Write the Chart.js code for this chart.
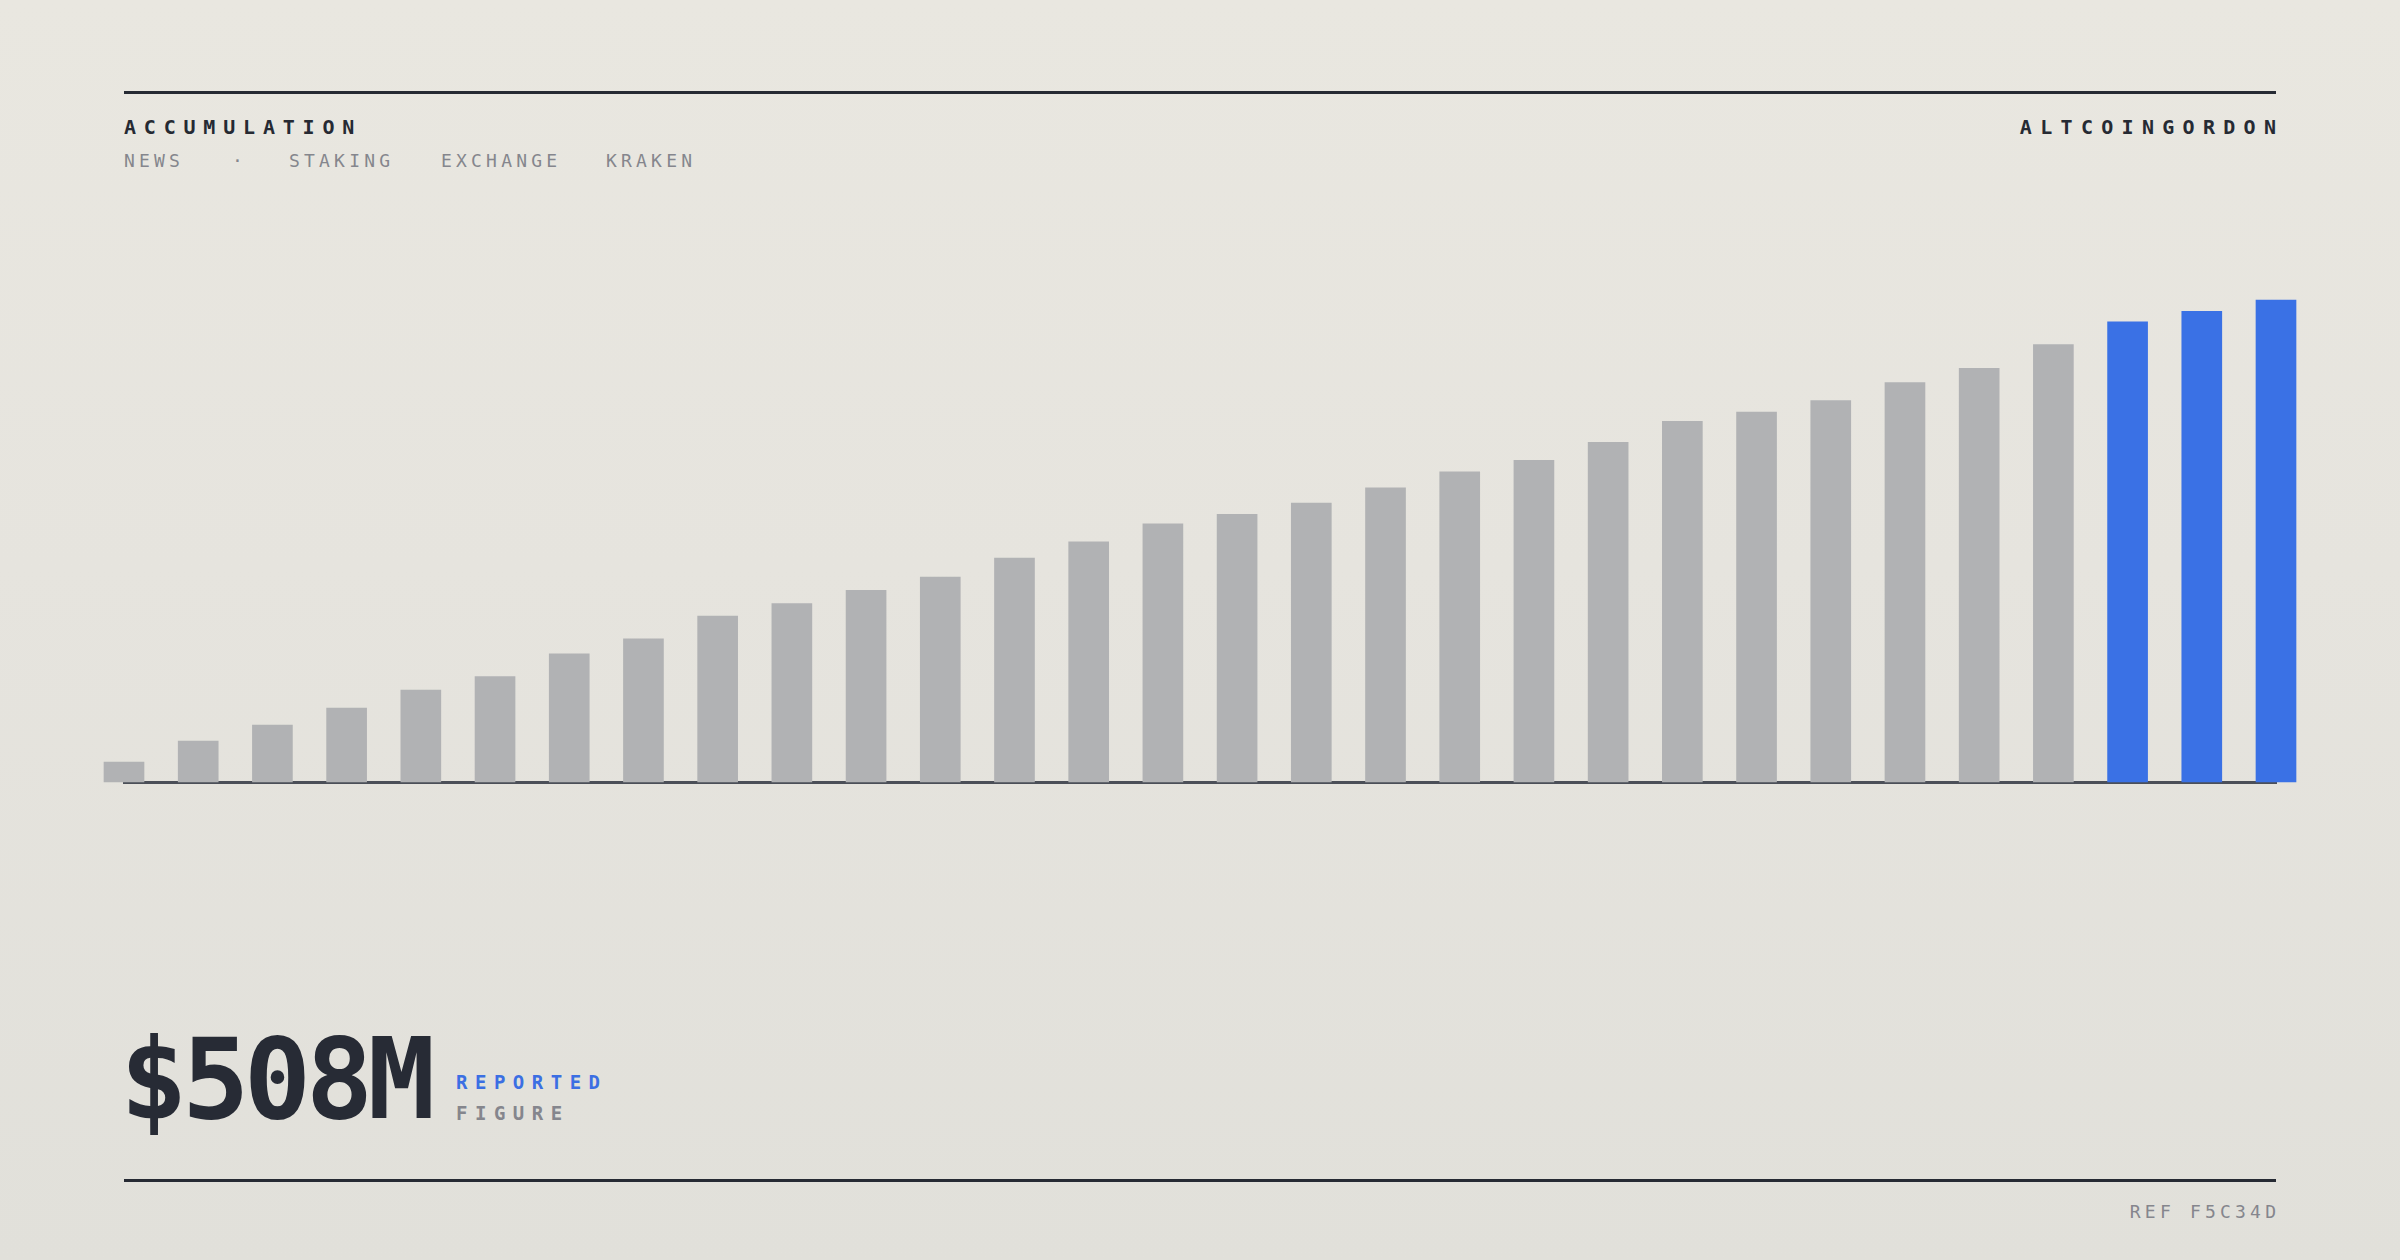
<!DOCTYPE html>
<html>
<head>
<meta charset="utf-8">
<script src="https://cdn.jsdelivr.net/npm/chart.js@4.4.1/dist/chart.umd.min.js"></script>
<style>
  html, body { margin:0; padding:0; }
  body {
    width:2400px; height:1260px; overflow:hidden; position:relative;
    background: linear-gradient(180deg, #e9e7e0 0%, #e6e4de 45%, #e1e0da 100%);
    font-family: "DejaVu Sans Mono", "Liberation Mono", monospace;
  }
  .rule { position:absolute; left:124px; width:2152px; height:3px; background:#262a33; }
  .t { position:absolute; white-space:nowrap; }
  #chart { position:absolute; left:0; top:0; }
</style>
</head>
<body>
<div class="rule" style="top:91px"></div>
<div class="rule" style="top:1179px"></div>

<div class="t" id="title" style="left:124px; top:112px; height:30px; line-height:30px; font-size:20px; font-weight:bold; letter-spacing:7.8px; color:#262a33;"></div>
<div class="t" id="brand" style="right:124px; margin-right:-8.3px; top:112px; height:30px; line-height:30px; font-size:20px; font-weight:bold; letter-spacing:8.3px; color:#262a33;"></div>
<div id="tags"></div>

<div class="t" id="big" style="left:120px; top:1019px; height:120px; line-height:120px; font-size:112px; font-weight:bold; letter-spacing:-5.5px; color:#272b35;"></div>
<div class="t" id="lab1" style="left:456px; top:1068px; height:28px; line-height:28px; font-size:19px; font-weight:bold; letter-spacing:7.5px; color:#3b6fe3;"></div>
<div class="t" id="lab2" style="left:456px; top:1099px; height:28px; line-height:28px; font-size:19px; font-weight:bold; letter-spacing:7.5px; color:#85868d;"></div>
<div class="t" id="ref" style="right:124px; margin-right:-4.2px; top:1198px; height:28px; line-height:28px; font-size:18px; letter-spacing:4.2px; color:#85868d;"></div>

<canvas id="chart" width="2400" height="1260"></canvas>

<script>
// ---- data ----
const categories = ["W01","W02","W03","W04","W05","W06","W07","W08","W09","W10",
                    "W11","W12","W13","W14","W15","W16","W17","W18","W19","W20",
                    "W21","W22","W23","W24","W25","W26","W27","W28","W29","W30"];
const values = [21, 43, 60, 78, 97, 111, 135, 151, 175, 188,
                202, 216, 236, 253, 272, 282, 294, 310, 327, 339,
                358, 380, 390, 402, 421, 436, 461, 485, 496, 508];
const highlightedCount = 3;
const titleText = "ACCUMULATION";
const brandText = "ALTCOINGORDON";
const tagTexts = ["NEWS", "·", "STAKING", "EXCHANGE", "KRAKEN"];
const headlineValue = "$508M";
const headlineLabels = ["REPORTED", "FIGURE"];
const refText = "REF F5C34D";

// ---- text ----
document.getElementById('title').textContent = titleText;
document.getElementById('brand').textContent = brandText;
document.getElementById('big').textContent = headlineValue;
document.getElementById('lab1').textContent = headlineLabels[0];
document.getElementById('lab2').textContent = headlineLabels[1];
document.getElementById('ref').textContent = refText;
const tagLefts = [124, 232, 289, 441, 606];
const tagsEl = document.getElementById('tags');
tagTexts.forEach((t, i) => {
  const d = document.createElement('div');
  d.className = 't';
  d.textContent = t;
  d.style.cssText = `left:${tagLefts[i]}px; top:147px; height:28px; line-height:28px; font-size:18px; letter-spacing:4.2px; color:#85868d;`;
  tagsEl.appendChild(d);
});

// ---- chart ----
const gray = '#b1b2b4';
const blue = '#3a71e5';
const barColors = values.map((v, i) => i >= values.length - highlightedCount ? blue : gray);

new Chart(document.getElementById('chart'), {
  type: 'bar',
  data: {
    labels: categories,
    datasets: [{
      data: values,
      backgroundColor: barColors,
      borderWidth: 0,
      barThickness: 40,
      clip: false
    }]
  },
  options: {
    responsive: false,
    animation: false,
    devicePixelRatio: 1,
    layout: { padding: { left: 124, right: 124, top: 300, bottom: 478 } },
    plugins: { legend: { display: false }, tooltip: { enabled: false }, title: { display: false } },
    scales: {
      x: {
        offset: false,
        z: 1,
        grid: { display: false, drawTicks: false },
        ticks: { display: false },
        border: { display: true, color: '#4b4f58', width: 3 }
      },
      y: {
        display: false,
        min: 0,
        max: 508,
        grid: { display: false, drawTicks: false },
        ticks: { display: false }
      }
    }
  }
});
</script>
</body>
</html>
